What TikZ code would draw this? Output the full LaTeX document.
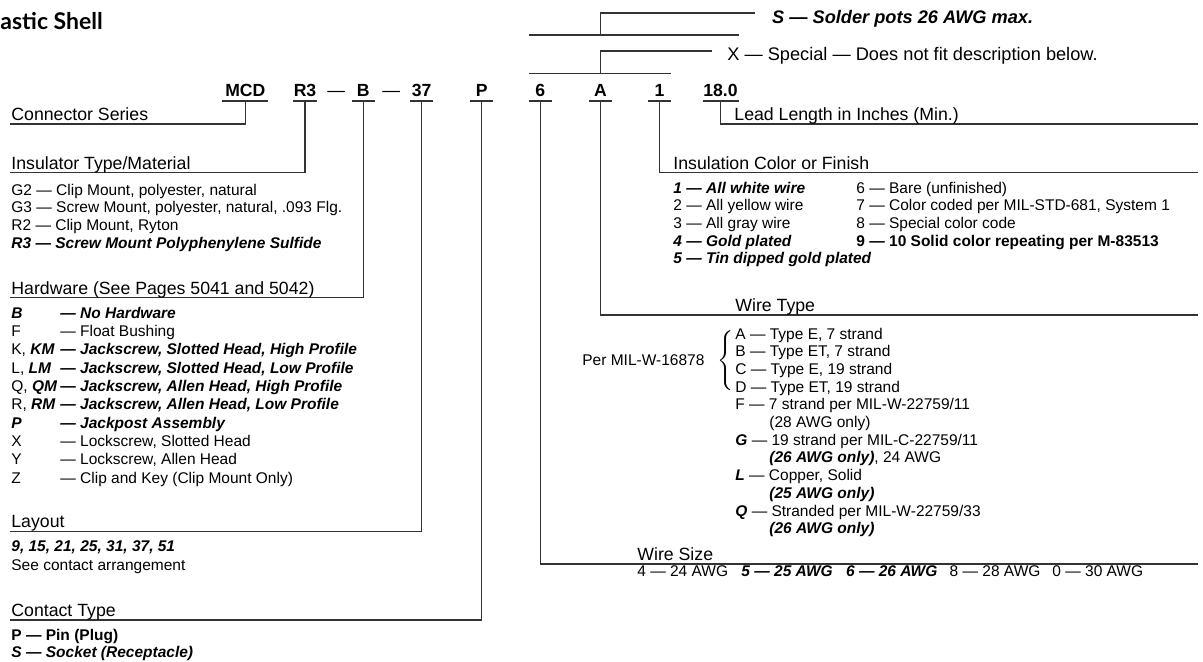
\documentclass[tikz,border=0pt]{standalone}
\usepackage{fontspec}
\setmainfont{Liberation Sans}
\newfontfamily\titlefont{Lato}

\newcommand\codefont{\fontsize{8.8}{10}\selectfont\bfseries}
\newcommand\headfont{\fontsize{8.85}{10}\selectfont}
\newcommand\itemfont{\fontsize{7.75}{9}\selectfont}
\newcommand\notefont{\fontsize{9.1}{10}\selectfont}
\newcommand\boldit[1]{\textbf{\textit{#1}}}

\begin{document}
\begin{tikzpicture}[x=0.5pt, y=-0.5pt,
  code/.style={font=\codefont, anchor=base, inner sep=0pt},
  head/.style={font=\headfont, anchor=base west, inner sep=0pt},
  item/.style={font=\itemfont, anchor=base west, inner sep=0pt},
  bitem/.style={item, font=\itemfont\bfseries\itshape},
  bfitem/.style={item, font=\itemfont\bfseries},
  note/.style={font=\notefont, anchor=base west, inner sep=0pt},
  lead/.style={line width=0.7pt, black!80}]

\useasboundingbox (0,0) rectangle (1203,661);

\node[anchor=base west, inner sep=0pt, font=\titlefont\fontsize{11.5}{12}\selectfont\bfseries] (ttl) at (0,29) {astic Shell};

% part number
\coordinate (ubar) at (0,101);
\node[code] (mcd) at (245.3,96) {MCD};
\node[code] (ins) at (305,96) {R3};
\node[code, font=\headfont] (dsh1) at (336.3,96) {—};
\node[code] (hw) at (363.3,96) {B};
\node[code, font=\headfont] (dsh2) at (391.3,96) {—};
\node[code] (lay) at (421.7,96) {37};
\node[code] (ct) at (481.7,96) {P};
\node[code] (ws) at (540.3,96) {6};
\node[code] (wt) at (600.5,96) {A};
\node[code] (ic) at (659.5,96) {1};
\node[code] (ll) at (720.5,96) {18.0};

\draw[lead] ([xshift=-11.5pt]mcd |- ubar) -- ([xshift=11.5pt]mcd |- ubar);
\draw[lead] ([xshift=-9pt]ll |- ubar) -- ([xshift=9pt]ll |- ubar);
\foreach \n in {ins,hw,lay,ct,ws,wt,ic}
  \draw[lead] ([xshift=-5.85pt]\n |- ubar) -- ([xshift=5.85pt]\n |- ubar);

% options above the part number
\coordinate (xbar) at (0,73.3);
\coordinate (sbar) at (0,35);
\coordinate (xend) at (711.7,51);
\coordinate (send) at (754.5,13);
\draw[lead] ([xshift=-5.85pt]ws |- xbar) -- ([xshift=5.85pt]ic |- xbar);
\draw[lead] (wt |- xbar) |- (xend);
\draw[lead] ([xshift=-5.85pt]ws |- sbar) -- ([xshift=9pt]ll |- sbar);
\draw[lead] (wt |- sbar) |- (send);
\node[note, font=\notefont\bfseries\itshape] (snote) at (771.8,23.5) {S — Solder pots 26 AWG max.};
\node[note] (xnote) at (727,60) {X — Special — Does not fit description below.};

% leaders to the headings
\coordinate (serl) at (10,124);
\coordinate (insl) at (10,172.7);
\coordinate (hwl) at (10,297.7);
\coordinate (layl) at (10,531.7);
\coordinate (ctl) at (10,620);
\coordinate (lll) at (1198,124);
\coordinate (icl) at (1198,172.7);
\coordinate (wtl) at (1198,315);
\coordinate (wsl) at (1198,564);
\draw[lead] (mcd |- ubar) |- (serl);
\draw[lead] (ins |- ubar) |- (insl);
\draw[lead] (hw |- ubar) |- (hwl);
\draw[lead] (lay |- ubar) |- (layl);
\draw[lead] (ct |- ubar) |- (ctl);
\draw[lead] (ll |- ubar) |- (lll);
\draw[lead] (ic |- ubar) |- (icl);
\draw[lead] (wt |- ubar) |- (wtl);
\draw[lead] (ws |- ubar) |- (wsl);

% headings
\node[head] (serh) at (11,120) {Connector Series};
\node[head] (insh) at (11,169) {Insulator Type/Material};
\node[head] (hwh) at (11,294) {Hardware (See Pages 5041 and 5042)};
\node[head] (layh) at (11,527.7) {Layout};
\node[head] (cth) at (11,616) {Contact Type};
\node[head] (llh) at (734,120) {Lead Length in Inches (Min.)};
\node[head] (ich) at (673,169) {Insulation Color or Finish};
\node[head] (wth) at (735,311) {Wire Type};
\node[head] (wsh) at (637,560) {Wire Size};

% insulator
\node[item] (g2) at (11,195) {G2 — Clip Mount, polyester, natural};
\node[item] (g3) at (11,212.7) {G3 — Screw Mount, polyester, natural, .093 Flg.};
\node[item] (r2) at (11,230.4) {R2 — Clip Mount, Ryton};
\node[bitem] (r3) at (11,248.1) {R3 — Screw Mount Polyphenylene Sulfide};

% hardware
\node[bitem] (hb) at (11,318.3) {B};
\node[bitem] (hbt) at (60,318.3) {— No Hardware};
\node[item] (hf) at (11,336.6) {F};
\node[item] (hft) at (60,336.6) {— Float Bushing};
\node[item] (hk) at (11,354.9) {K, \boldit{KM}};
\node[bitem] (hkt) at (60,354.9) {— Jackscrew, Slotted Head, High Profile};
\node[item] (hl) at (11,373.2) {L, \boldit{LM}};
\node[bitem] (hlt) at (60,373.2) {— Jackscrew, Slotted Head, Low Profile};
\node[item] (hq) at (11,391.5) {Q, \boldit{QM}};
\node[bitem] (hqt) at (60,391.5) {— Jackscrew, Allen Head, High Profile};
\node[item] (hr) at (11,409.8) {R, \boldit{RM}};
\node[bitem] (hrt) at (60,409.8) {— Jackscrew, Allen Head, Low Profile};
\node[bitem] (hp) at (11,428.1) {P};
\node[bitem] (hpt) at (60,428.1) {— Jackpost Assembly};
\node[item] (hx) at (11,446.4) {X};
\node[item] (hxt) at (60,446.4) {— Lockscrew, Slotted Head};
\node[item] (hy) at (11,464.7) {Y};
\node[item] (hyt) at (60,464.7) {— Lockscrew, Allen Head};
\node[item] (hz) at (11,483) {Z};
\node[item] (hzt) at (60,483) {— Clip and Key (Clip Mount Only)};

% layout and contact
\node[bitem] (lay1) at (11,551.7) {9, 15, 21, 25, 31, 37, 51};
\node[item] (lay2) at (11,570) {See contact arrangement};
\node[bfitem] (ctp) at (11,640) {P — Pin (Plug)};
\node[bitem] (cts) at (11,657.5) {S — Socket (Receptacle)};

% insulation color
\node[bitem] (c1) at (673,193) {1 — All white wire};
\node[item] (c2) at (673,210.7) {2 — All yellow wire};
\node[item] (c3) at (673,228.4) {3 — All gray wire};
\node[bitem] (c4) at (673,246.1) {4 — Gold plated};
\node[bitem] (c5) at (673,263.8) {5 — Tin dipped gold plated};
\node[item] (c6) at (856,193) {6 — Bare (unfinished)};
\node[item] (c7) at (856,210.7) {7 — Color coded per MIL-STD-681, System 1};
\node[item] (c8) at (856,228.4) {8 — Special color code};
\node[bfitem] (c9) at (856,246.1) {9 — 10 Solid color repeating per M-83513};

% wire type
\node[item] (pmil) at (582,365) {Per MIL-W-16878};
\node[inner sep=0pt] (brc) at (727,361) {$\left\{\vcenter{\hbox{\rule{0pt}{32pt}}}\right.$};
\node[item] (wa) at (735,339) {A — Type E, 7 strand};
\node[item] (wb) at (735,356.7) {B — Type ET, 7 strand};
\node[item] (wc) at (735,374.4) {C — Type E, 19 strand};
\node[item] (wd) at (735,392.1) {D — Type ET, 19 strand};
\node[item] (wf) at (735,409.8) {F — 7 strand per MIL-W-22759/11};
\node[item] (wf2) at (769,427.5) {(28 AWG only)};
\node[item] (wg) at (735,445.2) {\boldit{G} — 19 strand per MIL-C-22759/11};
\node[item] (wg2) at (769,462.9) {\boldit{(26 AWG only)}, 24 AWG};
\node[item] (wl) at (735,480.6) {\boldit{L} — Copper, Solid};
\node[bitem] (wl2) at (769,498.3) {(25 AWG only)};
\node[item] (wq) at (735,516) {\boldit{Q} — Stranded per MIL-W-22759/33};
\node[bitem] (wq2) at (769,533.7) {(26 AWG only)};

% wire size
\node[item] (s4) at (637,576) {4 — 24 AWG};
\node[bitem] (s5) at (741,576) {5 — 25 AWG};
\node[bitem] (s6) at (845.7,576) {6 — 26 AWG};
\node[item] (s8) at (949.3,576) {8 — 28 AWG};
\node[item] (s0) at (1052,576) {0 — 30 AWG};

\end{tikzpicture}
\end{document}
